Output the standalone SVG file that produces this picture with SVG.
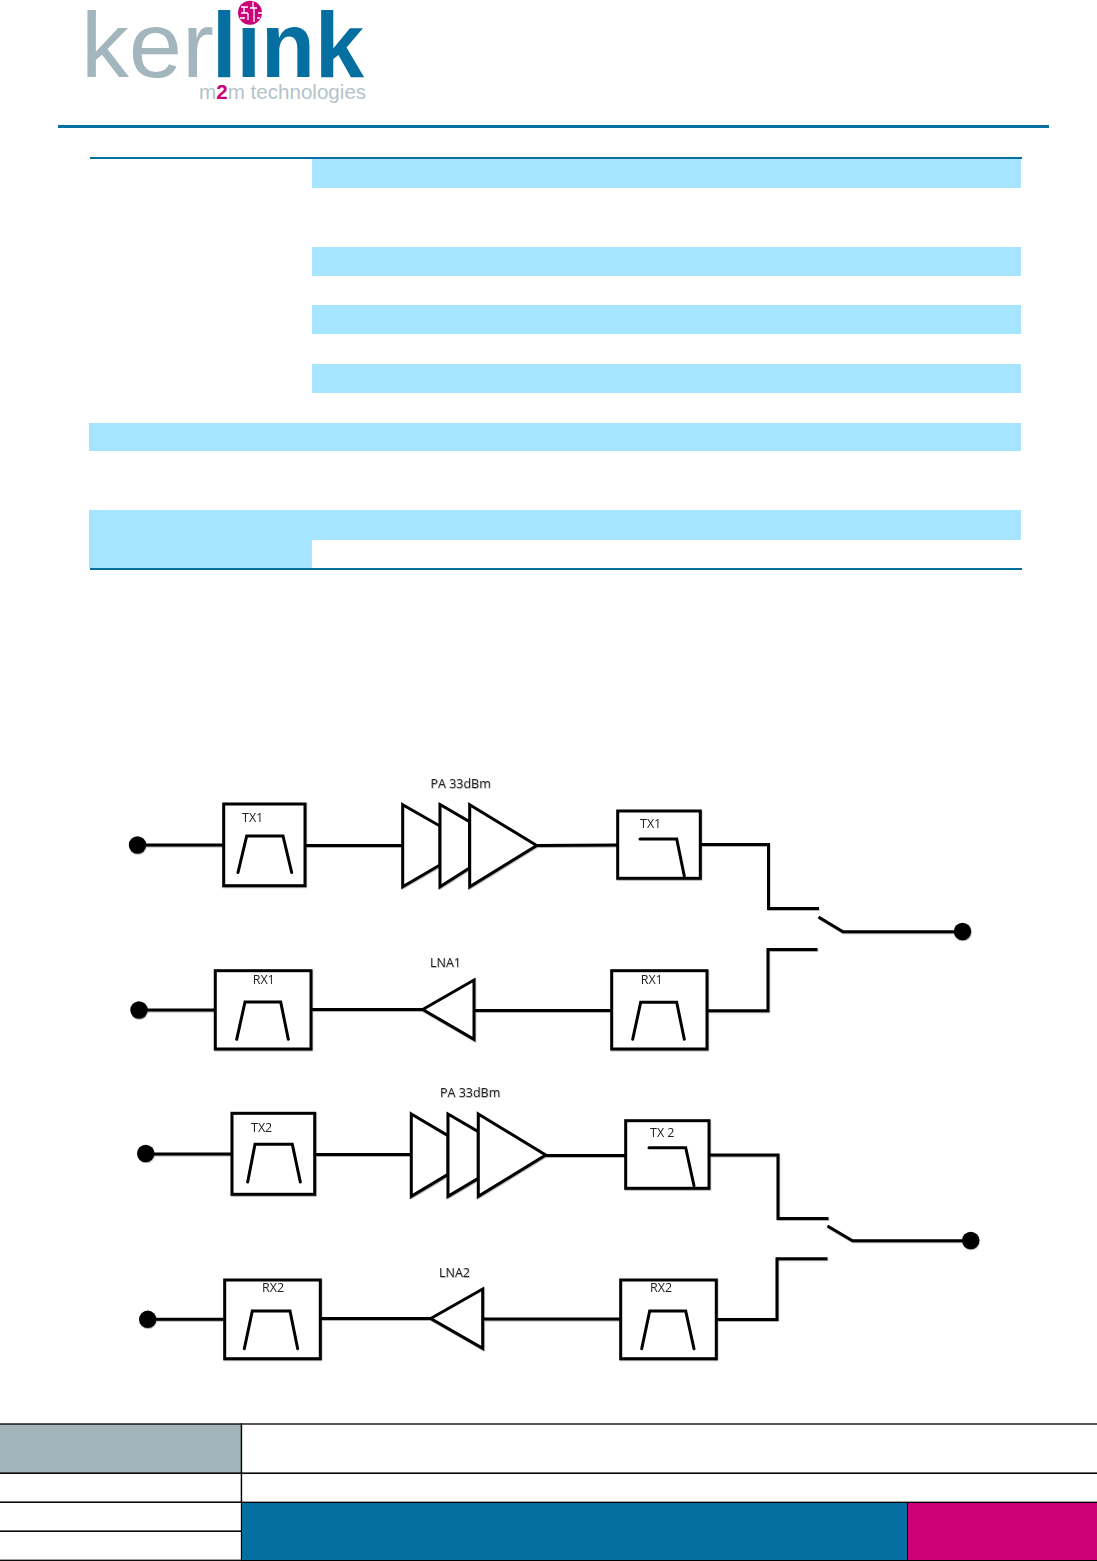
<svg xmlns="http://www.w3.org/2000/svg" width="1097" height="1561" viewBox="0 0 1097 1561">
<style>
.band{fill:#a6e5ff}
.rule{fill:#046fa0}
.ln{fill:none;stroke:#000;stroke-width:3;stroke-linejoin:miter}
.nd{fill:#fff;stroke:#000;stroke-width:3}
.f{fill:none;stroke:#000;stroke-width:3;stroke-linecap:round}
.dot{fill:#000}
.lb{font-family:"Open Sans","Liberation Sans",sans-serif;font-size:12.5px;fill:#222}
.cell{fill:#fff;stroke:#000;stroke-width:1.3}
.ker{font-family:"Liberation Sans",sans-serif;font-size:92px;fill:#a4b6bd}
.link{font-family:"Liberation Sans",sans-serif;font-size:92px;font-weight:bold;fill:#046fa0}
.m2m{font-family:"Liberation Sans",sans-serif;font-size:20.6px;fill:#b4c3c9}
</style>
<defs>
<filter id="sh" x="-5%" y="-5%" width="110%" height="110%"><feDropShadow dx="0.5" dy="1" stdDeviation="0.7" flood-color="#000" flood-opacity="0.3"/></filter>
</defs>
<rect width="1097" height="1561" fill="#fff"/>
<g id="logo">
<text class="ker" x="81" y="77" textLength="133" lengthAdjust="spacingAndGlyphs">ker</text>
<text class="link" x="212" y="77" textLength="152" lengthAdjust="spacingAndGlyphs">link</text>
<circle cx="250" cy="12.7" r="12" fill="#cc0077"/>
<path d="M241 7h7M244 7v6M241 13h7M248 13v7M253 2v6M250 8h7M254 8v14M258 13h4M240 18h5M257 18h3" fill="none" stroke="#fff" stroke-width="1.3"/>
<text class="m2m" x="199" y="99">m<tspan font-weight="bold" fill="#cc0077">2</tspan>m technologies</text>
</g>
<rect class="rule" x="58" y="125" width="991" height="3"/>
<g id="table">
<rect class="band" x="312" y="159" width="709" height="29"/>
<rect class="band" x="312" y="247" width="709" height="29"/>
<rect class="band" x="312" y="305" width="709" height="29"/>
<rect class="band" x="312" y="364" width="709" height="29"/>
<rect class="band" x="89" y="423" width="932" height="28"/>
<rect class="band" x="89" y="510" width="932" height="30"/>
<rect class="band" x="89" y="540" width="223" height="28"/>
<rect class="rule" x="90" y="157" width="932" height="2"/>
<rect class="rule" x="90" y="568" width="932" height="2"/>
</g>
<g filter="url(#sh)">
<g id="connectors">
<path class="ln" d="M137 845H224"/>
<path class="ln" d="M305 845.5H403"/>
<path class="ln" d="M537 845.5L618 845"/>
<path class="ln" d="M700 844.5H768.5V908.5H819"/>
<path class="ln" d="M818.5 917L843 931.7H962"/>
<path class="ln" d="M817.5 949.5H768V1010.7H707"/>
<path class="ln" d="M474 1010.5H612"/>
<path class="ln" d="M311 1009.5H423"/>
<path class="ln" d="M139 1010H216"/>
<path class="ln" d="M146 1154H232"/>
<path class="ln" d="M314.7 1154.5H411.5"/>
<path class="ln" d="M545.7 1155.5H626"/>
<path class="ln" d="M709 1155H778V1218.5H828.5"/>
<path class="ln" d="M827.5 1226L852.5 1240.7H971"/>
<path class="ln" d="M827.5 1258.7H777V1319.5H716"/>
<path class="ln" d="M482.7 1319H621"/>
<path class="ln" d="M320 1318.5H431"/>
<path class="ln" d="M148 1319.3H225"/>
</g>
<g id="port-tx1"><circle class="dot" cx="137.5" cy="845" r="8.7"/></g>
<g id="filter-tx1-in"><rect class="nd" x="223.7" y="804" width="81.3" height="81.7"/><path class="f" d="M238 872.5L246.7 836H283L291.7 872.5"/><text class="lb" x="242" y="822">TX1</text></g>
<g id="pa1"><path class="nd" d="M402.7 804.7L440 826V865L402.7 886.7Z"/><path class="nd" d="M440 804.5L469.5 821.7V868L440 886.7Z"/><path class="nd" d="M469.7 804.7L536.7 845.5L469.7 886.7Z"/><text class="lb" x="430.5" y="788">PA 33dBm</text></g>
<g id="filter-tx1-out"><rect class="nd" x="617.7" y="811" width="82.6" height="67.3"/><path class="f" d="M640 839H676.7L684.3 876"/><text class="lb" x="640" y="828">TX1</text></g>
<g id="port-ant1"><circle class="dot" cx="962.5" cy="931.5" r="8.7"/></g>
<g id="port-rx1"><circle class="dot" cx="139" cy="1010" r="8.7"/></g>
<g id="filter-rx1-in"><rect class="nd" x="215.3" y="970.7" width="95.7" height="78.3"/><path class="f" d="M236.7 1039.3L245 1002H280.7L288.3 1039.3"/><text class="lb" x="252.7" y="984">RX1</text></g>
<g id="lna1"><path class="nd" d="M422.7 1009.5L474 980V1039.3Z"/><text class="lb" x="430" y="967">LNA1</text></g>
<g id="filter-rx1-out"><rect class="nd" x="611.7" y="970.7" width="95.3" height="78.3"/><path class="f" d="M632.7 1039.3L640.7 1002.3H676.7L684.3 1039.3"/><text class="lb" x="640.7" y="984">RX1</text></g>
<g id="port-tx2"><circle class="dot" cx="145.7" cy="1153.5" r="8.7"/></g>
<g id="filter-tx2-in"><rect class="nd" x="232" y="1113.3" width="82.7" height="81"/><path class="f" d="M247.7 1182L255 1144.3H292.3L300.3 1182"/><text class="lb" x="251" y="1131.7">TX2</text></g>
<g id="pa2"><path class="nd" d="M411.3 1114L448 1135.7V1174.3L411.3 1196.3Z"/><path class="nd" d="M448 1114L478.3 1131.7V1178.3L448 1196.3Z"/><path class="nd" d="M478.3 1114L545.7 1155L478.3 1196.3Z"/><text class="lb" x="440" y="1097">PA 33dBm</text></g>
<g id="filter-tx2-out"><rect class="nd" x="625.7" y="1120.7" width="83.3" height="67.6"/><path class="f" d="M649 1147.7H685.7L694 1185.7"/><text class="lb" x="650" y="1136.7">TX 2</text></g>
<g id="port-ant2"><circle class="dot" cx="970.7" cy="1240.5" r="8.7"/></g>
<g id="port-rx2"><circle class="dot" cx="147.7" cy="1319.3" r="8.7"/></g>
<g id="filter-rx2-in"><rect class="nd" x="224.7" y="1280" width="95.6" height="78.7"/><path class="f" d="M244.3 1348.7L252.3 1311H290L297.7 1348.7"/><text class="lb" x="262" y="1292">RX2</text></g>
<g id="lna2"><path class="nd" d="M430.7 1318.5L482.7 1289V1348.3Z"/><text class="lb" x="439" y="1276.7">LNA2</text></g>
<g id="filter-rx2-out"><rect class="nd" x="620.7" y="1280" width="95.6" height="78.7"/><path class="f" d="M641.7 1348.7L649.7 1311H685.7L694 1348.7"/><text class="lb" x="650" y="1292">RX2</text></g>
</g>
<g id="footer">
<rect class="cell" x="-1" y="1424" width="242.5" height="49.3" style="fill:#a3b4ba"/>
<rect class="cell" x="241.5" y="1424" width="857" height="49.3"/>
<rect class="cell" x="-1" y="1473.3" width="242.5" height="29"/>
<rect class="cell" x="241.5" y="1473.3" width="857" height="29"/>
<rect class="cell" x="-1" y="1502.3" width="242.5" height="29"/>
<rect class="cell" x="-1" y="1531.3" width="242.5" height="29"/>
<rect x="241.5" y="1502.5" width="666" height="58" fill="#046fa0" stroke="#000" stroke-width="1"/>
<rect x="907.5" y="1502.5" width="191" height="58" fill="#cc0077" stroke="#000" stroke-width="1"/>
</g>
</svg>
